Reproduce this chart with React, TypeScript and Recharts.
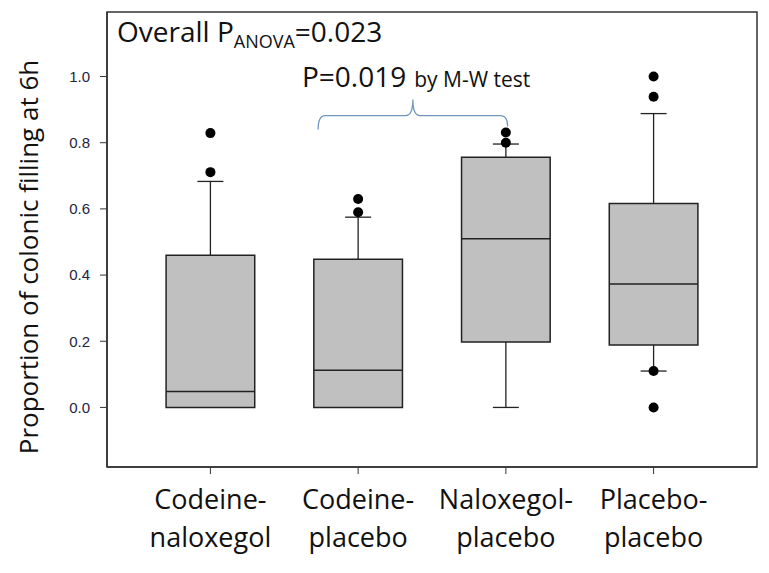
import React from 'react';
import {
  ComposedChart, XAxis, YAxis, Scatter, ReferenceArea, ReferenceLine,
} from 'recharts';

// groups, left to right
const groupLine1 = ['Codeine-', 'Codeine-', 'Naloxegol-', 'Placebo-'];
const groupLine2 = ['naloxegol', 'placebo', 'placebo', 'placebo'];
const groupPos = [1, 2, 3, 4];

// box statistics
const q1 = [0, 0, 0.198, 0.189];
const medians = [0.048, 0.112, 0.51, 0.373];
const q3 = [0.46, 0.448, 0.756, 0.616];
const whiskerLow = [0, 0, 0, 0.11];
const whiskerHigh = [0.683, 0.575, 0.796, 0.888];
const outliers = [
  [0.711, 0.829],
  [0.59, 0.63],
  [0.8, 0.831],
  [0, 0.11, 0.939, 1.0],
];

const yTicks = [0, 0.2, 0.4, 0.6, 0.8, 1.0];

// M-W comparison bracket (Codeine-placebo vs Naloxegol-placebo)
const braceFrom = 1.729;
const braceTo = 3.012;
const braceY = 0.882;

const BOX_HALF = 0.3;
const CAP_HALF = 0.088;
const FONT = '"Open Sans", sans-serif';

const outlierData = outliers.flatMap((vals, i) => vals.map((v) => ({ x: groupPos[i], y: v })));

const GroupTick = (props: any) => {
  const { x, y, payload } = props;
  const i = groupPos.indexOf(payload.value);
  return (
    <g transform={`translate(${x},${y})`}>
      <text textAnchor="middle" fontFamily={FONT} fontSize={27} fill="#111">
        <tspan x={0} y={33}>{groupLine1[i]}</tspan>
        <tspan x={0} y={71}>{groupLine2[i]}</tspan>
      </text>
    </g>
  );
};

const Brace = (props: any) => {
  const { x1, y1, x2 } = props;
  const xm = (x1 + x2) / 2;
  const d = `M${x1},${y1 + 14} Q${x1},${y1} ${x1 + 7},${y1} L${xm - 7},${y1} Q${xm},${y1} ${xm},${y1 - 16} Q${xm},${y1} ${xm + 7},${y1} L${x2 - 7},${y1} Q${x2},${y1} ${x2},${y1 + 11}`;
  return <path d={d} fill="none" stroke="#7097c0" strokeWidth={1.3} />;
};

export default function App() {
  const stroke = '#222';
  return (
    <div style={{ position: 'absolute', left: 0, top: 0, width: 769, height: 573, background: '#fff' }}>
      <ComposedChart width={769} height={573} margin={{ top: 12, right: 12, bottom: 0, left: 47 }}>
        <XAxis
          dataKey="x"
          type="number"
          domain={[0.3, 4.7]}
          ticks={groupPos}
          interval={0}
          height={106}
          tick={<GroupTick />}
          tickSize={7}
          axisLine={{ stroke: '#333', strokeWidth: 1.5 }}
          tickLine={{ stroke: '#333' }}
        />
        <YAxis
          type="number"
          domain={[-0.18, 1.195]}
          ticks={yTicks}
          width={60}
          tickSize={7}
          tickMargin={10}
          tickFormatter={(v: number) => v.toFixed(1)}
          tick={{ fill: '#24243f', fontSize: 15, fontFamily: 'Arial, "Liberation Sans", sans-serif' }}
          axisLine={{ stroke: '#333', strokeWidth: 1.5 }}
          tickLine={{ stroke: '#333' }}
        />
        {/* plot frame */}
        <ReferenceArea x1={0.3} x2={4.7} y1={-0.18} y2={1.195} fill="none" stroke="#333" strokeWidth={1.5} ifOverflow="visible" />

        {groupPos.map((p, i) => (
          <ReferenceLine key={`wh${i}`} segment={[{ x: p, y: q3[i] }, { x: p, y: whiskerHigh[i] }]} stroke={stroke} strokeWidth={1.3} />
        ))}
        {groupPos.map((p, i) => (
          <ReferenceLine key={`ch${i}`} segment={[{ x: p - CAP_HALF, y: whiskerHigh[i] }, { x: p + CAP_HALF, y: whiskerHigh[i] }]} stroke={stroke} strokeWidth={1.3} />
        ))}
        {groupPos.map((p, i) =>
          whiskerLow[i] < q1[i] ? (
            <ReferenceLine key={`wl${i}`} segment={[{ x: p, y: whiskerLow[i] }, { x: p, y: q1[i] }]} stroke={stroke} strokeWidth={1.3} />
          ) : null
        )}
        {groupPos.map((p, i) =>
          whiskerLow[i] < q1[i] ? (
            <ReferenceLine key={`cl${i}`} segment={[{ x: p - CAP_HALF, y: whiskerLow[i] }, { x: p + CAP_HALF, y: whiskerLow[i] }]} stroke={stroke} strokeWidth={1.3} />
          ) : null
        )}
        {groupPos.map((p, i) => (
          <ReferenceArea key={`box${i}`} x1={p - BOX_HALF} x2={p + BOX_HALF} y1={q1[i]} y2={q3[i]} fill="#c0c0c0" fillOpacity={1} stroke={stroke} strokeWidth={1.5} />
        ))}
        {groupPos.map((p, i) => (
          <ReferenceLine key={`md${i}`} segment={[{ x: p - BOX_HALF, y: medians[i] }, { x: p + BOX_HALF, y: medians[i] }]} stroke={stroke} strokeWidth={1.5} />
        ))}

        <ReferenceLine segment={[{ x: braceFrom, y: braceY }, { x: braceTo, y: braceY }]} shape={<Brace />} />

        <Scatter data={outlierData} dataKey="y" fill="#000" isAnimationActive={false} shape={(p: any) => <circle cx={p.cx} cy={p.cy} r={5} fill="#000" />} />
      </ComposedChart>

      <svg width={769} height={573} style={{ position: 'absolute', left: 0, top: 0, pointerEvents: 'none' }}>
        <text x={117} y={42} fontFamily={FONT} fontSize={28} fill="#111">
          Overall P
          <tspan fontSize={18} dy={6}>ANOVA</tspan>
          <tspan fontSize={28} dy={-6}>=0.023</tspan>
        </text>
        <text x={302} y={87} fontFamily={FONT} fill="#111">
          <tspan fontSize={28}>P=0.019</tspan>
          <tspan fontSize={21} dx={8}>by M-W test</tspan>
        </text>
        <text
          transform="translate(38,257) rotate(-90)"
          textAnchor="middle"
          fontFamily={FONT}
          fontSize={26}
          fill="#111"
        >
          Proportion of colonic filling at 6h
        </text>
      </svg>
    </div>
  );
}
